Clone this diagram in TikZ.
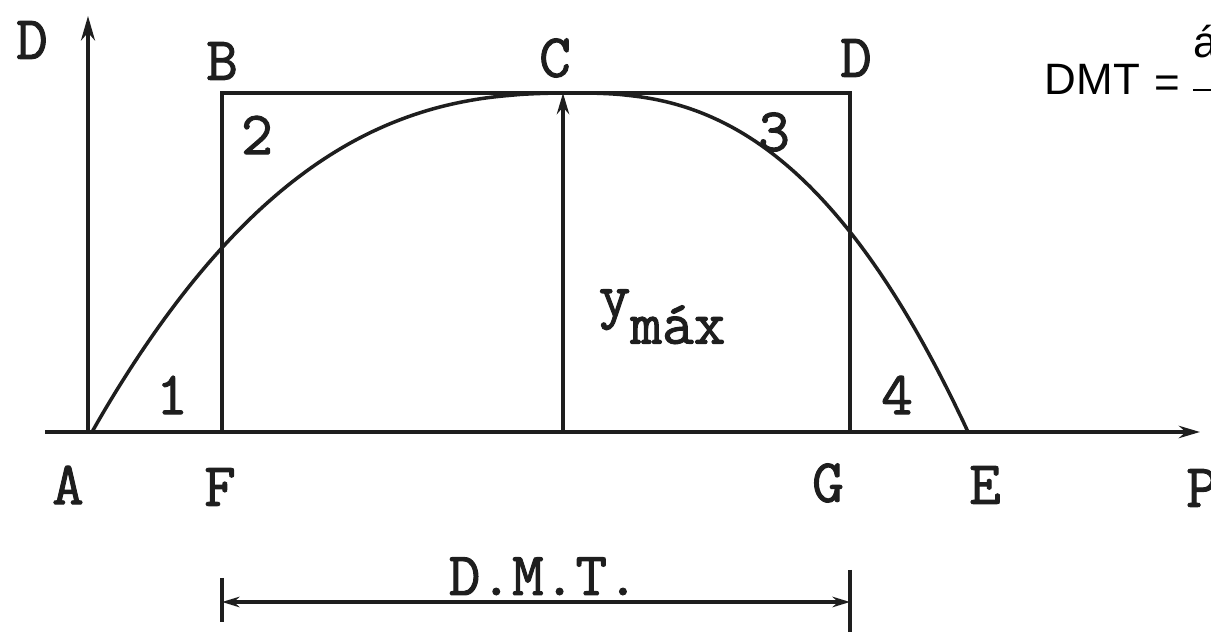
\documentclass[tikz,border=0pt]{standalone}
\usepackage{fontspec}
\usetikzlibrary{arrows.meta}
\newfontfamily\arialfont{Liberation Sans}
\newfontfamily\twfont{Latin Modern Mono}[FakeBold=1.6]
\definecolor{ink}{RGB}{30,30,30}
\tikzset{lbl/.style={font=\twfont\fontsize{35}{38}\selectfont,inner sep=0pt,text=ink},
  axis/.style={-{Stealth[length=14pt,width=8pt]}}}

\begin{document}
\begin{tikzpicture}[x=.02cm,y=-.02cm,line width=2pt,draw=ink]
\useasboundingbox(0,0)rectangle(1211,634);
\clip(0,0)rectangle(1211,634);
\coordinate(A)at(88,432);\coordinate(Atop)at(88,16);\coordinate(Aend)at(45,432);\coordinate(Pend)at(1200,432);
\coordinate(F)at(222,432);\coordinate(G)at(850,432);\coordinate(E)at(968,432);
\coordinate(B)at(222,93);\coordinate(C)at(563,93);\coordinate(D)at(850,93);\coordinate(Cb)at(563,432);
% axes
\draw[axis](A)--(Atop);
\draw[-{Stealth[length=12pt,width=7pt]}](Aend)--(Pend);
% rectangle and curve
\draw(F)--(B)--(D)--(G);
\draw[-{Stealth[length=12pt,width=7pt]}](Cb)--(C);
\draw plot[domain=92:573,samples=80](\x,{432-339*(1-((575-\x)/483)^2.5)})--(575,93)--plot[domain=577:968,samples=80](\x,{432-339*(1-((\x-575)/393)^2.5)});
% D.M.T. dimension
\coordinate(dl)at(222,602);\coordinate(dr)at(850,602);
\draw[{Stealth[length=10pt,width=6pt]}-{Stealth[length=10pt,width=6pt]}](dl)--(dr);
\draw(dl)++(0,-24)--++(0,44);\draw(dr)++(0,-32)--++(0,62);
% labels
\node[lbl](lD)at(32,40){D};\node[lbl](lB)at(222,61){B};\node[lbl](lC)at(555,58){C};\node[lbl](lD2)at(856,58){D};
\node[lbl](n2)at(257,135){2};\node[lbl](n3)at(774,132){3};\node[lbl](n1)at(172,395){1};\node[lbl](n4)at(897,395){4};
\node[lbl,anchor=base west](ym)at(597,316){y\raisebox{-.45em}{máx}};
\node[lbl](lA)at(68,485){A};\node[lbl](lF)at(220,487){F};\node[lbl](lG)at(828,483){G};\node[lbl](lE)at(985,485){E};\node[lbl](lP)at(1202,488){P};
\node[lbl,anchor=base west](dmt)at(447,595){D.M.T.};
% formula top right
\node[font=\arialfont\fontsize{25}{28}\selectfont,inner sep=0pt,anchor=base west](f)at(1043,95){DMT};
\node[font=\arialfont\fontsize{25}{28}\selectfont,inner sep=0pt](eq)at(1167,87){=};
\node[font=\arialfont\fontsize{25}{28}\selectfont,inner sep=0pt,anchor=base west](num)at(1192,58){á};
\draw[line width=1pt,draw=black](1193,90)--(1215,90);
\end{tikzpicture}
\end{document}
